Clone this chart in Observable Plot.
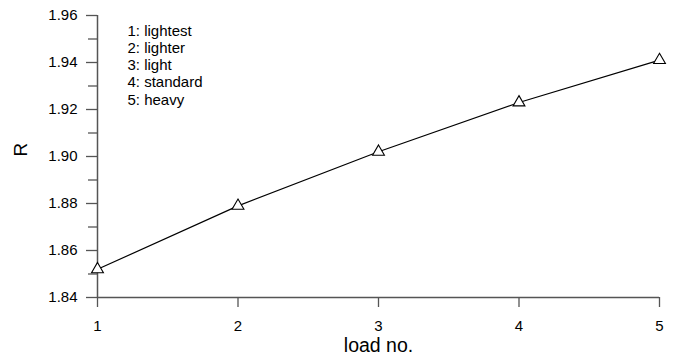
<!DOCTYPE html>
<html><head><meta charset="utf-8">
<script src="https://cdn.jsdelivr.net/npm/d3@7"></script>
<script src="https://cdn.jsdelivr.net/npm/@observablehq/plot@0.6"></script>
<style>
body{margin:0;background:#fff;}
</style>
</head><body><div id="chart"></div>
<script>
const loads = [1, 2, 3, 4, 5];
const rValues = [1.852, 1.879, 1.902, 1.923, 1.941];
const yMajorTicks = [1.84, 1.86, 1.88, 1.90, 1.92, 1.94, 1.96];
const yMinorTicks = [1.85, 1.87, 1.89, 1.91, 1.93, 1.95];
const xTicks = [1, 2, 3, 4, 5];
const legendLines = ["1: lightest", "2: lighter", "3: light", "4: standard", "5: heavy"];

const data = loads.map((x, i) => ({x, r: rValues[i]}));
const axisColor = "#555";

const chart = Plot.plot({
  width: 678, height: 364,
  marginLeft: 97, marginRight: 19, marginTop: 15, marginBottom: 67,
  style: {fontFamily: "Liberation Sans, Arial, sans-serif", fontSize: "15px", color: "#000", background: "#fff"},
  x: {domain: [1, 5]},
  y: {domain: [1.84, 1.96]},
  marks: [
    Plot.axisY({ticks: yMajorTicks, tickSize: 11, tickPadding: 9, tickFormat: d3.format(".2f"), stroke: axisColor, strokeWidth: 1.3, fill: "#000", fontSize: 15, label: null}),
    Plot.axisY({ticks: yMinorTicks, tickSize: 9, tickFormat: () => "", stroke: axisColor, strokeWidth: 1.3, label: null}),
    Plot.axisX({ticks: xTicks, tickSize: 10, tickPadding: 13, tickFormat: d3.format("d"), stroke: axisColor, strokeWidth: 1.3, fill: "#000", fontSize: 15, label: null}),
    Plot.ruleX([1], {y1: 1.84, y2: 1.96, stroke: axisColor, strokeWidth: 1.5}),
    Plot.ruleY([1.84], {x1: 1, x2: 5, stroke: axisColor, strokeWidth: 1.5}),
    Plot.line(data, {x: "x", y: "r", stroke: "#000", strokeWidth: 1.2}),
    Plot.dot(data, {x: "x", y: "r", symbol: "triangle", r: 4.4, stroke: "#000", fill: "#fff", strokeWidth: 1.1}),
    Plot.text([legendLines.join("\n")], {frameAnchor: "top-left", dx: 30, dy: 8, lineAnchor: "top", textAnchor: "start", lineHeight: 1.15, fontSize: 15, fill: "#000"}),
    Plot.text(["R"], {frameAnchor: "left", dx: -77, rotate: -90, fontSize: 19, fill: "#000"}),
    Plot.text(["load no."], {frameAnchor: "bottom", dy: 54, fontSize: 19.5, fill: "#000"})
  ]
});
document.getElementById("chart").appendChild(chart);
// force layout so text metrics are resolved before capture
chart.querySelectorAll("text").forEach(t => { t.getBBox(); getComputedStyle(t).fontSize; });
</script></body></html>
